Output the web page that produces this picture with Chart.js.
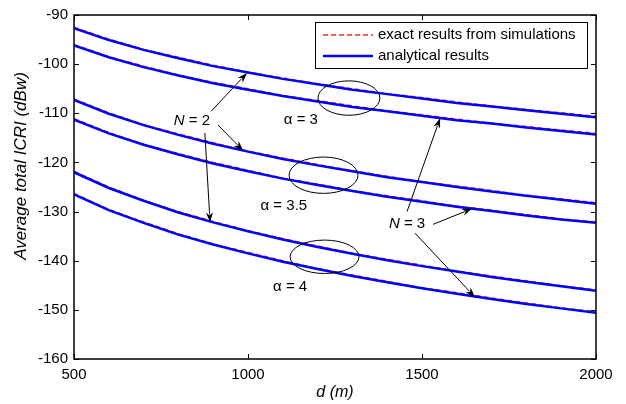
<!DOCTYPE html>
<html>
<head>
<meta charset="utf-8">
<script src="https://cdn.jsdelivr.net/npm/chart.js@4.4.1/dist/chart.umd.min.js"></script>
<style>
  html, body { margin: 0; padding: 0; background: #fff; }
</style>
</head>
<body>
<canvas id="icriChart" width="626" height="404"></canvas>
<script>
// 거리 (m)
const distances = [500, 600, 700, 800, 900, 1000, 1100, 1200, 1300, 1400, 1500, 1600, 1700, 1800, 1900, 2000];
const xTicks = [500, 1000, 1500, 2000];
const yTicks = [-160, -150, -140, -130, -120, -110, -100, -90];

// analytical results (dBw)
const anaA3N2 = [-92.7, -95.1, -97.1, -98.8, -100.4, -101.7, -103.0, -104.1, -105.2, -106.1, -107.0, -107.9, -108.6, -109.4, -110.1, -110.8];
const anaA3N3 = [-96.2, -98.6, -100.6, -102.3, -103.9, -105.2, -106.5, -107.6, -108.7, -109.6, -110.5, -111.4, -112.1, -112.9, -113.6, -114.3];
const anaA35N2 = [-107.3, -110.1, -112.4, -114.4, -116.2, -117.8, -119.3, -120.6, -121.8, -123.0, -124.0, -125.0, -125.9, -126.8, -127.6, -128.4];
const anaA35N3 = [-111.3, -114.1, -116.4, -118.4, -120.2, -121.8, -123.3, -124.6, -125.8, -127.0, -128.0, -129.0, -129.9, -130.8, -131.6, -132.3];
const anaA4N2 = [-122.0, -125.2, -127.8, -130.2, -132.2, -134.0, -135.7, -137.2, -138.6, -139.9, -141.1, -142.2, -143.3, -144.3, -145.2, -146.1];
const anaA4N3 = [-126.5, -129.7, -132.3, -134.7, -136.7, -138.5, -140.2, -141.7, -143.1, -144.4, -145.6, -146.7, -147.8, -148.8, -149.7, -150.6];

// exact results from simulations (dBw)
const simA3N2 = [-92.5, -94.9, -97.0, -98.6, -100.2, -101.6, -102.8, -104.0, -105.0, -106.0, -106.8, -107.7, -108.5, -109.2, -109.9, -110.6];
const simA3N3 = [-96.0, -98.5, -100.4, -102.2, -103.7, -105.0, -106.4, -107.4, -108.5, -109.5, -110.3, -111.2, -112.0, -112.7, -113.4, -114.1];
const simA35N2 = [-107.1, -109.9, -112.3, -114.2, -116.0, -117.7, -119.1, -120.4, -121.7, -122.8, -123.9, -124.8, -125.7, -126.7, -127.4, -128.2];
const simA35N3 = [-111.1, -113.9, -116.3, -118.2, -120.0, -121.6, -123.2, -124.4, -125.7, -126.8, -127.8, -128.9, -129.7, -130.6, -131.5, -132.1];
const simA4N2 = [-121.8, -125.0, -127.7, -130.0, -132.0, -133.9, -135.5, -137.0, -138.5, -139.7, -140.9, -142.1, -143.1, -144.1, -145.1, -145.9];
const simA4N3 = [-126.3, -129.6, -132.1, -134.5, -136.6, -138.3, -140.0, -141.6, -142.9, -144.2, -145.5, -146.5, -147.6, -148.6, -149.6, -150.4];

const FONT = '"Liberation Sans", Arial, sans-serif';
const BLUE = '#0000ff';
const RED = '#e8341c';

const toPoints = vals => vals.map((v, i) => ({ x: distances[i], y: v }));

const analytical = [anaA3N2, anaA3N3, anaA35N2, anaA35N3, anaA4N2, anaA4N3].map(vals => ({
    data: toPoints(vals),
    borderColor: BLUE,
    borderWidth: 2.5,
    pointRadius: 0,
    tension: 0,
    order: 0
}));
const simulated = [simA3N2, simA3N3, simA35N2, simA35N3, simA4N2, simA4N3].map(vals => ({
    data: toPoints(vals),
    borderColor: RED,
    borderWidth: 1.5,
    borderDash: [5, 3],
    pointRadius: 0,
    tension: 0,
    order: 1
}));

// 주석: 타원, 화살표, 라벨 (데이터 좌표)
const ellipses = [
    { d: 1290, v: -106.9, rd: 89, rv: 3.5 },
    { d: 1217, v: -122.6, rd: 99, rv: 3.7 },
    { d: 1220, v: -139.2, rd: 99, rv: 3.4 }
];
const alphaLabels = [
    { text: 'α = 3', d: 1152, v: -111.4 },
    { text: 'α = 3.5', d: 1103, v: -128.8 },
    { text: 'α = 4', d: 1121, v: -145.4 }
];
const nLabels = [
    { n: '2', d: 839, v: -111.6 },
    { n: '3', d: 1457, v: -132.4 }
];
const arrows = [
    [894, -109.6, 997, -101.8],
    [914, -112.4, 986, -117.6],
    [876, -114.0, 891, -132.2],
    [1457, -130.0, 1552, -111.0],
    [1532, -132.6, 1644, -129.4],
    [1480, -134.4, 1652, -147.4]
];

const annotationPlugin = {
    id: 'annotations',
    afterDatasetsDraw(chart) {
        const { ctx, scales: { x, y } } = chart;
        ctx.save();
        ctx.strokeStyle = '#000';
        ctx.fillStyle = '#000';
        ctx.lineWidth = 1;

        ellipses.forEach(e => {
            const cx = x.getPixelForValue(e.d), cy = y.getPixelForValue(e.v);
            const rx = x.getPixelForValue(e.d + e.rd) - cx;
            const ry = cy - y.getPixelForValue(e.v + e.rv);
            ctx.beginPath();
            ctx.ellipse(cx, cy, rx, ry, 0, 0, Math.PI * 2);
            ctx.stroke();
        });

        arrows.forEach(a => {
            const x0 = x.getPixelForValue(a[0]), y0 = y.getPixelForValue(a[1]);
            const x1 = x.getPixelForValue(a[2]), y1 = y.getPixelForValue(a[3]);
            const ang = Math.atan2(y1 - y0, x1 - x0);
            const len = 10, hw = 3.5;
            ctx.beginPath();
            ctx.moveTo(x0, y0);
            ctx.lineTo(x1 - Math.cos(ang) * len * 0.8, y1 - Math.sin(ang) * len * 0.8);
            ctx.stroke();
            ctx.beginPath();
            ctx.moveTo(x1, y1);
            ctx.lineTo(x1 - Math.cos(ang) * len - Math.sin(ang) * hw, y1 - Math.sin(ang) * len + Math.cos(ang) * hw);
            ctx.lineTo(x1 - Math.cos(ang) * len * 0.7, y1 - Math.sin(ang) * len * 0.7);
            ctx.lineTo(x1 - Math.cos(ang) * len + Math.sin(ang) * hw, y1 - Math.sin(ang) * len - Math.cos(ang) * hw);
            ctx.closePath();
            ctx.fill();
        });

        ctx.textBaseline = 'middle';
        ctx.textAlign = 'center';
        ctx.font = '15px ' + FONT;
        alphaLabels.forEach(l => {
            ctx.fillText(l.text, x.getPixelForValue(l.d), y.getPixelForValue(l.v));
        });

        nLabels.forEach(l => {
            const italic = 'italic 15px ' + FONT, normal = '15px ' + FONT;
            ctx.font = italic;
            const wN = ctx.measureText('N').width;
            ctx.font = normal;
            const rest = ' = ' + l.n;
            const wR = ctx.measureText(rest).width;
            const cx = x.getPixelForValue(l.d), cy = y.getPixelForValue(l.v);
            const left = cx - (wN + wR) / 2;
            ctx.textAlign = 'left';
            ctx.font = italic;
            ctx.fillText('N', left, cy);
            ctx.font = normal;
            ctx.fillText(rest, left + wN, cy);
        });
        ctx.restore();
    },
    afterDraw(chart) {
        const { ctx, chartArea: ca, scales: { x, y } } = chart;
        ctx.save();

        // 축 박스와 안쪽 눈금
        ctx.strokeStyle = '#000';
        ctx.lineWidth = 1.5;
        ctx.strokeRect(ca.left, ca.top, ca.right - ca.left, ca.bottom - ca.top);
        ctx.lineWidth = 1;
        const tl = 5;
        ctx.beginPath();
        xTicks.forEach(t => {
            const px = Math.round(x.getPixelForValue(t)) + 0.5;
            ctx.moveTo(px, ca.bottom); ctx.lineTo(px, ca.bottom - tl);
            ctx.moveTo(px, ca.top); ctx.lineTo(px, ca.top + tl);
        });
        yTicks.forEach(t => {
            const py = Math.round(y.getPixelForValue(t)) + 0.5;
            ctx.moveTo(ca.left, py); ctx.lineTo(ca.left + tl, py);
            ctx.moveTo(ca.right, py); ctx.lineTo(ca.right - tl, py);
        });
        ctx.stroke();

        // 범례
        const lx = ca.right - 281, ly = ca.top + 7, lw = 272, lh = 46;
        ctx.fillStyle = '#fff';
        ctx.fillRect(lx, ly, lw, lh);
        ctx.strokeStyle = '#000';
        ctx.lineWidth = 1;
        ctx.strokeRect(lx + 0.5, ly + 0.5, lw, lh);
        const items = [
            { label: 'exact results from simulations', color: RED, width: 1.5, dash: [5, 3], yOff: 13 },
            { label: 'analytical results', color: BLUE, width: 2.5, dash: [], yOff: 34 }
        ];
        items.forEach(it => {
            ctx.beginPath();
            ctx.strokeStyle = it.color;
            ctx.lineWidth = it.width;
            ctx.setLineDash(it.dash);
            ctx.moveTo(lx + 8, ly + it.yOff);
            ctx.lineTo(lx + 58, ly + it.yOff);
            ctx.stroke();
            ctx.setLineDash([]);
            ctx.fillStyle = '#000';
            ctx.font = '15px ' + FONT;
            ctx.textAlign = 'left';
            ctx.textBaseline = 'middle';
            ctx.fillText(it.label, lx + 63, ly + it.yOff);
        });

        // 축 제목
        ctx.fillStyle = '#000';
        ctx.textAlign = 'center';
        ctx.textBaseline = 'middle';
        ctx.font = 'italic 16px ' + FONT;
        ctx.fillText('d (m)', (ca.left + ca.right) / 2, 393);
        ctx.translate(21, 166);
        ctx.rotate(-Math.PI / 2);
        ctx.font = 'italic 17px ' + FONT;
        ctx.fillText('Average total ICRI (dBw)', 0, 0);
        ctx.restore();
    }
};

const ctx = document.getElementById('icriChart').getContext('2d');
const icriChart = new Chart(ctx, {
    type: 'line',
    data: { datasets: [...analytical, ...simulated] },
    options: {
        responsive: false,
        animation: false,
        layout: { padding: { top: 10, right: 30, left: 0, bottom: 0 } },
        plugins: {
            legend: { display: false },
            tooltip: { enabled: false }
        },
        scales: {
            x: {
                type: 'linear',
                min: 500,
                max: 2000,
                afterBuildTicks: s => { s.ticks = xTicks.map(v => ({ value: v })); },
                afterFit: s => { s.height = 45; },
                grid: { display: false, drawTicks: false },
                border: { display: false },
                ticks: { color: '#000', font: { size: 15, family: FONT }, padding: 7, maxRotation: 0, callback: v => String(v) }
            },
            y: {
                min: -160,
                max: -90,
                afterBuildTicks: s => { s.ticks = yTicks.map(v => ({ value: v })); },
                afterFit: s => { s.width = 74; },
                grid: { display: false, drawTicks: false },
                border: { display: false },
                ticks: { color: '#000', font: { size: 15, family: FONT }, padding: 6, callback: v => String(v) }
            }
        }
    },
    plugins: [annotationPlugin]
});
</script>
</body>
</html>
